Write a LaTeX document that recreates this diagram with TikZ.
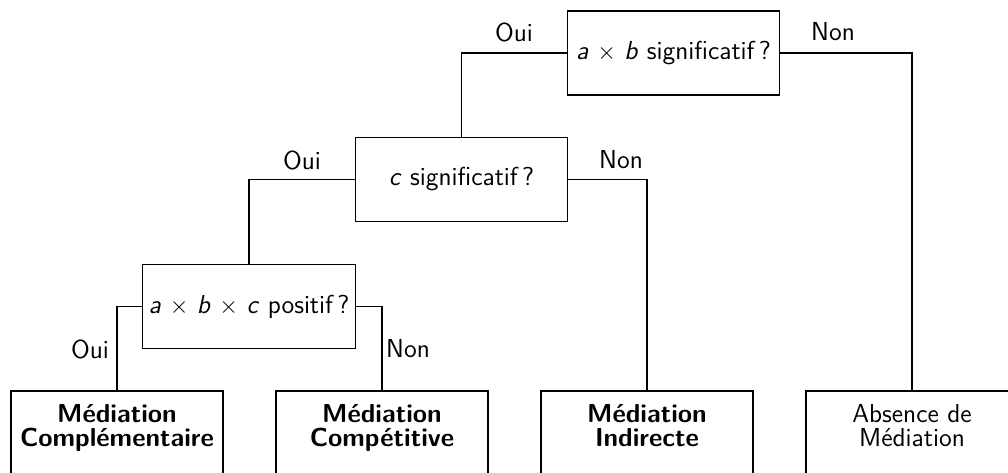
\documentclass[tikz,border=0pt]{standalone}
\begin{document}
\begin{tikzpicture}[x=0.5pt,y=-0.5pt,
  font=\sffamily\fontsize{13}{12}\selectfont,
  line width=0.6pt,
  qbox/.style={draw, minimum width=106.25pt, minimum height=42pt, inner sep=0pt},
  leafbox/.style={draw, minimum width=106pt, minimum height=42pt, inner sep=0pt},
  leaftext/.style={align=center, anchor=north, inner sep=0pt},
  ans/.style={inner sep=0pt}]
\useasboundingbox (0,0) rectangle (1008,472);
% decision boxes
\node[qbox] (q1) at (673.5,53) {\textit{a} $\times$ \textit{b} significatif\,?};
\node[qbox] (q2) at (461.5,179.5) {\textit{c} significatif\,?};
\node[qbox] (q3) at (249,306.5) {\textit{a} $\times$ \textit{b} $\times$ \textit{c} positif\,?};
% leaf boxes
\node[leafbox] (A) at (117,433) {};
\node[leafbox] (B) at (382,433) {};
\node[leafbox] (C) at (647,433) {};
\node[leafbox] (D) at (912,433) {};
\node[leaftext] (At) at (117,404) {\bfseries M\'ediation\\\bfseries Compl\'ementaire};
\node[leaftext] (Bt) at (382,404) {\bfseries M\'ediation\\\bfseries Comp\'etitive};
\node[leaftext] (Ct) at (647,404) {\bfseries M\'ediation\\\bfseries Indirecte};
\node[leaftext] (Dt) at (912,404) {Absence de\\M\'ediation};
% connectors
\draw (q1.west) -| (q2.north);
\draw (q1.east) -| (D.north);
\draw (q2.west) -| (q3.north);
\draw (q2.east) -| (C.north);
\draw (q3.west) -| (A.north);
\draw (q3.east) -| (B.north);
% answer labels
\node[ans] (o1) at (514,32) {Oui};
\node[ans] (n1) at (833,32) {Non};
\node[ans] (o2) at (302,160) {Oui};
\node[ans] (n2) at (621,160) {Non};
\node[ans] (o3) at (90,349) {Oui};
\node[ans] (n3) at (408,349) {Non};
\end{tikzpicture}
\end{document}
